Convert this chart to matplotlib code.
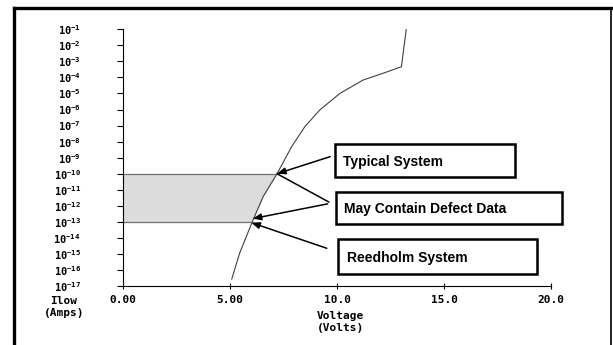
import numpy as np
import matplotlib
matplotlib.use("Agg")
import matplotlib.pyplot as plt
from matplotlib.lines import Line2D
from matplotlib.patches import Rectangle

# curve: voltage (V) vs log10 of current (A)
volts = [5.08, 5.45, 6.08, 6.55, 7.21, 7.88, 8.50, 9.20, 10.14, 11.22, 12.15, 13.01, 13.24]
log_amps = [-16.57, -14.95, -12.87, -11.42, -9.97, -8.31, -7.06, -6.02, -4.99, -4.16, -3.74, -3.33, -0.94]

# band of currents that may contain defect data
band_low = -13
band_high = -10

x_ticks = [0, 5, 10, 15, 20]
x_labels = ["0.00", "5.00", "10.0", "15.0", "20.0"]
exponents = list(range(-1, -18, -1))

notes = ["Typical System", "May Contain Defect Data", "Reedholm System"]

plt.rcParams["mathtext.fontset"] = "custom"
plt.rcParams["mathtext.rm"] = "DejaVu Sans Mono:bold"
plt.rcParams["mathtext.it"] = "DejaVu Sans Mono:bold"
plt.rcParams["mathtext.bf"] = "DejaVu Sans Mono:bold"

mono = dict(family="DejaVu Sans Mono", weight="bold", size=8)

fig = plt.figure(figsize=(6.13, 3.45), dpi=100)
ax = fig.add_axes([0.2007, 0.171, 0.6982, 0.744])

amps = [10.0 ** v for v in log_amps]
ax.plot(volts, amps, color="#404040", lw=0.8)

# shaded band between the axis and the curve
ys = np.linspace(band_low, band_high, 50)
xs = np.interp(ys, log_amps, volts)
ax.fill_betweenx(10.0 ** ys, 0, xs, color="#dcdcdc", lw=0)
for lv in (band_low, band_high):
    ax.plot([0, np.interp(lv, log_amps, volts)], [10.0 ** lv] * 2, color="#707070", lw=0.9)

ax.set_yscale("log")
ax.set_xlim(0, 20)
ax.set_ylim(10.0 ** -17, 10.0 ** -1)
ax.set_xticks(x_ticks)
ax.set_xticklabels(x_labels, fontdict=mono)
ax.set_yticks([10.0 ** e for e in exponents])
ax.set_yticklabels([r"$\mathregular{10^{%d}}$" % e for e in exponents],
                   family="DejaVu Sans Mono", weight="bold", size=7.5)
ax.minorticks_off()
ax.tick_params(axis="y", direction="out", length=4.3, width=0.8, pad=26)
ax.tick_params(axis="x", direction="inout", length=5, width=0.8, pad=4)
for s in ("top", "right"):
    ax.spines[s].set_visible(False)
for s in ("left", "bottom"):
    ax.spines[s].set_linewidth(0.8)

ax.text(-0.138, -0.037, "Ilow\n(Amps)", transform=ax.transAxes, ha="center", va="top",
        linespacing=1.25, **mono)
ax.text(0.507, -0.097, "Voltage\n(Volts)", transform=ax.transAxes, ha="center", va="top",
        linespacing=1.25, **mono)

# labelled boxes
boxes = [(0.495, 0.425, 0.421, 0.128), (0.498, 0.241, 0.528, 0.126), (0.502, 0.047, 0.465, 0.136)]
text_pos = [(0.515, 0.484), (0.516, 0.299), (0.523, 0.110)]
for (bx, by, bw, bh), (tx, ty), label in zip(boxes, text_pos, notes):
    ax.add_patch(Rectangle((bx, by), bw, bh, transform=ax.transAxes, fill=False,
                           ec="black", lw=1.8, clip_on=False))
    ax.text(tx, ty, label, transform=ax.transAxes, ha="left", va="center",
            family="Liberation Sans", weight="bold", size=10)

arrow = dict(arrowstyle="-|>,head_length=0.5,head_width=0.2", color="black", lw=1.1,
             shrinkA=0, shrinkB=0)
top_v = np.interp(band_high, log_amps, volts)
low_v = np.interp(band_low, log_amps, volts)
ax.annotate("", xy=(top_v, 10.0 ** band_high), xycoords="data",
            xytext=(0.484, 0.504), textcoords="axes fraction", arrowprops=arrow)
ax.annotate("", xy=(top_v, 10.0 ** band_high), xycoords="data",
            xytext=(0.481, 0.327), textcoords="axes fraction",
            arrowprops=dict(arrowstyle="-", color="black", lw=1.1, shrinkA=0, shrinkB=0))
ax.annotate("", xy=(low_v + 0.02, 10.0 ** (band_low + 0.2)), xycoords="data",
            xytext=(0.478, 0.320), textcoords="axes fraction", arrowprops=arrow)
ax.annotate("", xy=(low_v - 0.05, 10.0 ** (band_low - 0.05)), xycoords="data",
            xytext=(0.476, 0.147), textcoords="axes fraction", arrowprops=arrow)

# outer frame
fig.add_artist(Line2D([0.0228, 0.9975], [0.977, 0.977], transform=fig.transFigure, color="black", lw=2.4))
fig.add_artist(Line2D([0.0228, 0.0228], [0.0, 0.977], transform=fig.transFigure, color="black", lw=2.4))
fig.add_artist(Line2D([0.9975, 0.9975], [0.0, 0.977], transform=fig.transFigure, color="black", lw=1.2))

fig.savefig("out.png", dpi=100)
